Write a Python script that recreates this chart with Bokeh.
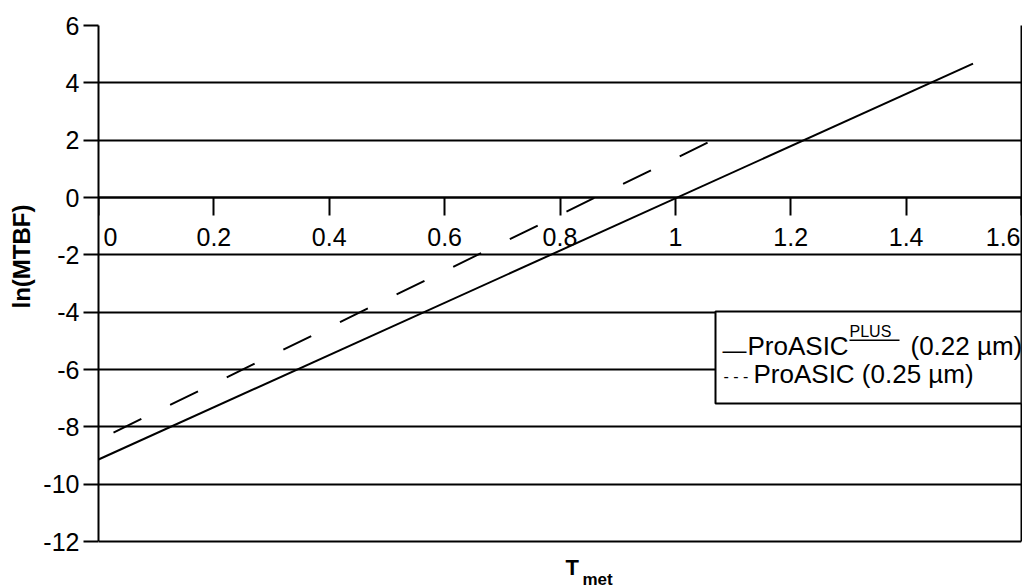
import math
from bokeh.plotting import figure
from bokeh.models import (Range1d, FixedTicker, Label, BoxAnnotation, CustomJSTickFormatter,
                          LinearAxis, Title)
from bokeh.core.properties import value
from bokeh.embed import file_html
from bokeh.resources import INLINE

# ---- data ----
solid_x = [0.0, 1.516]          # ProASIC PLUS (0.22 um)
solid_y = [-9.14, 4.67]
dashed_x = [0.026, 1.071]       # ProASIC (0.25 um)
dashed_y = [-8.20, 2.06]
x_ticks = [0, 0.2, 0.4, 0.6, 0.8, 1.0, 1.2, 1.4, 1.6]
x_tick_labels = ["0", "0.2", "0.4", "0.6", "0.8", "1", "1.2", "1.4", "1.6"]
y_ticks = [-12, -10, -8, -6, -4, -2, 0, 2, 4, 6]
legend_solid_sample = "\u2014"
legend_main = "ProASIC"
legend_sup = "PLUS"
legend_tail = "(0.22 \u00b5m)"
legend_dash = "- - -"
legend_second = "ProASIC (0.25 \u00b5m)"
x_title_main = "T"
x_title_sub = "met"
y_title = "ln(MTBF)"

FONT = "Liberation Sans"
W, H = 1022, 588

# layout: plot area of the chart in pixels
FL, FT, FR, FB = 98, 25, 1021, 541
SX = (FR - FL) / 1.6
SY = (FB - FT) / 18.0
def dx(px):
    return (px - FL) / SX
def dy(py):
    return 6 - (py - FT) / SY

p = figure(width=W, height=H, x_range=Range1d(0, 1.6), y_range=Range1d(dy(H), 6),
           output_backend="svg", toolbar_location=None,
           min_border_left=FL, min_border_right=W - FR, min_border_top=FT, min_border_bottom=0)
p.background_fill_color = "white"
p.border_fill_color = "white"
p.outline_line_color = None

p.xgrid.visible = False
p.ygrid.ticker = FixedTicker(ticks=y_ticks)
p.ygrid.grid_line_color = "black"
p.ygrid.grid_line_width = 2

# y axis (left)
p.yaxis.ticker = FixedTicker(ticks=y_ticks)
p.yaxis.bounds = (-12, 6)
p.yaxis.formatter = CustomJSTickFormatter(code="return tick.toString()")
p.yaxis.major_label_text_font = FONT
p.yaxis.major_label_text_font_size = "25px"
p.yaxis.major_label_text_color = "black"
p.yaxis.major_label_standoff = 4
p.yaxis.major_tick_out = 15
p.yaxis.major_tick_in = 0
p.yaxis.major_tick_line_width = 2
p.yaxis.major_tick_line_color = "black"
p.yaxis.minor_tick_line_color = None
p.yaxis.axis_line_width = 2
p.yaxis.axis_line_color = "black"

# right border of the plot area
right_axis = LinearAxis(bounds=(-12, 6), ticker=FixedTicker(ticks=[]),
                        major_tick_out=0, major_tick_in=0, minor_tick_out=0, minor_tick_in=0,
                        major_label_text_font_size="0px", major_label_standoff=0,
                        axis_line_color="black", axis_line_width=2)
p.add_layout(right_axis, "right")

# x axis at y = 0
p.xaxis.fixed_location = 0
p.xaxis.ticker = FixedTicker(ticks=x_ticks)
p.xaxis.formatter = CustomJSTickFormatter(code="return ''")
p.xaxis.major_tick_out = 18
p.xaxis.major_tick_in = 0
p.xaxis.major_tick_line_width = 2
p.xaxis.major_tick_line_color = "black"
p.xaxis.minor_tick_line_color = None
p.xaxis.axis_line_width = 2
p.xaxis.axis_line_color = "black"

# x tick labels below the y = 0 axis
common = dict(text_font=value(FONT), text_font_size="25px", text_color="black",
              text_baseline="top", y_offset=30)
p.text(x=x_ticks[:1], y=[0], text=x_tick_labels[:1], text_align="left", x_offset=5, **common)
p.text(x=x_ticks[1:-1], y=[0] * (len(x_ticks) - 2), text=x_tick_labels[1:-1],
       text_align="center", **common)
p.text(x=x_ticks[-1:], y=[0], text=x_tick_labels[-1:], text_align="right", x_offset=-1, **common)

# series
p.line(solid_x, solid_y, line_color="black", line_width=2)
p.line(dashed_x, dashed_y, line_color="black", line_width=2, line_dash="31 32")

# legend (drawn as annotations)
p.add_layout(BoxAnnotation(left=dx(715), right=1.6, top=dy(311), bottom=dy(403),
                           fill_color="white", fill_alpha=1.0,
                           line_color="black", line_width=2, line_alpha=1.0))
def lab(px, py, text, size, bold=False):
    p.add_layout(Label(x=dx(px), y=dy(py), text=text, text_font=FONT,
                       text_font_size=size, text_color="black",
                       text_font_style="bold" if bold else "normal",
                       text_align="left", text_baseline="middle"))
lab(722, 349, legend_solid_sample, "24px")
lab(747, 345, legend_main, "26px")
lab(849, 331, legend_sup, "16px")
p.add_layout(BoxAnnotation(left=dx(849), right=dx(899), top=dy(339), bottom=dy(340.5),
                           fill_color="black", fill_alpha=1.0, line_color=None))
lab(910, 345, legend_tail, "26px")
lab(723, 376, legend_dash, "16px")
lab(753, 373.5, legend_second, "26px")

# axis titles
lab(565, 567, x_title_main, "22px", bold=True)
lab(582, 579, x_title_sub, "17px", bold=True)
p.add_layout(Title(text=y_title, align="left", offset=H - 308, vertical_align="middle",
                   text_font=FONT, text_font_size="24px", text_font_style="bold",
                   text_color="black", standoff=10), "left")

open("out.html", "w").write(file_html(p, INLINE))
